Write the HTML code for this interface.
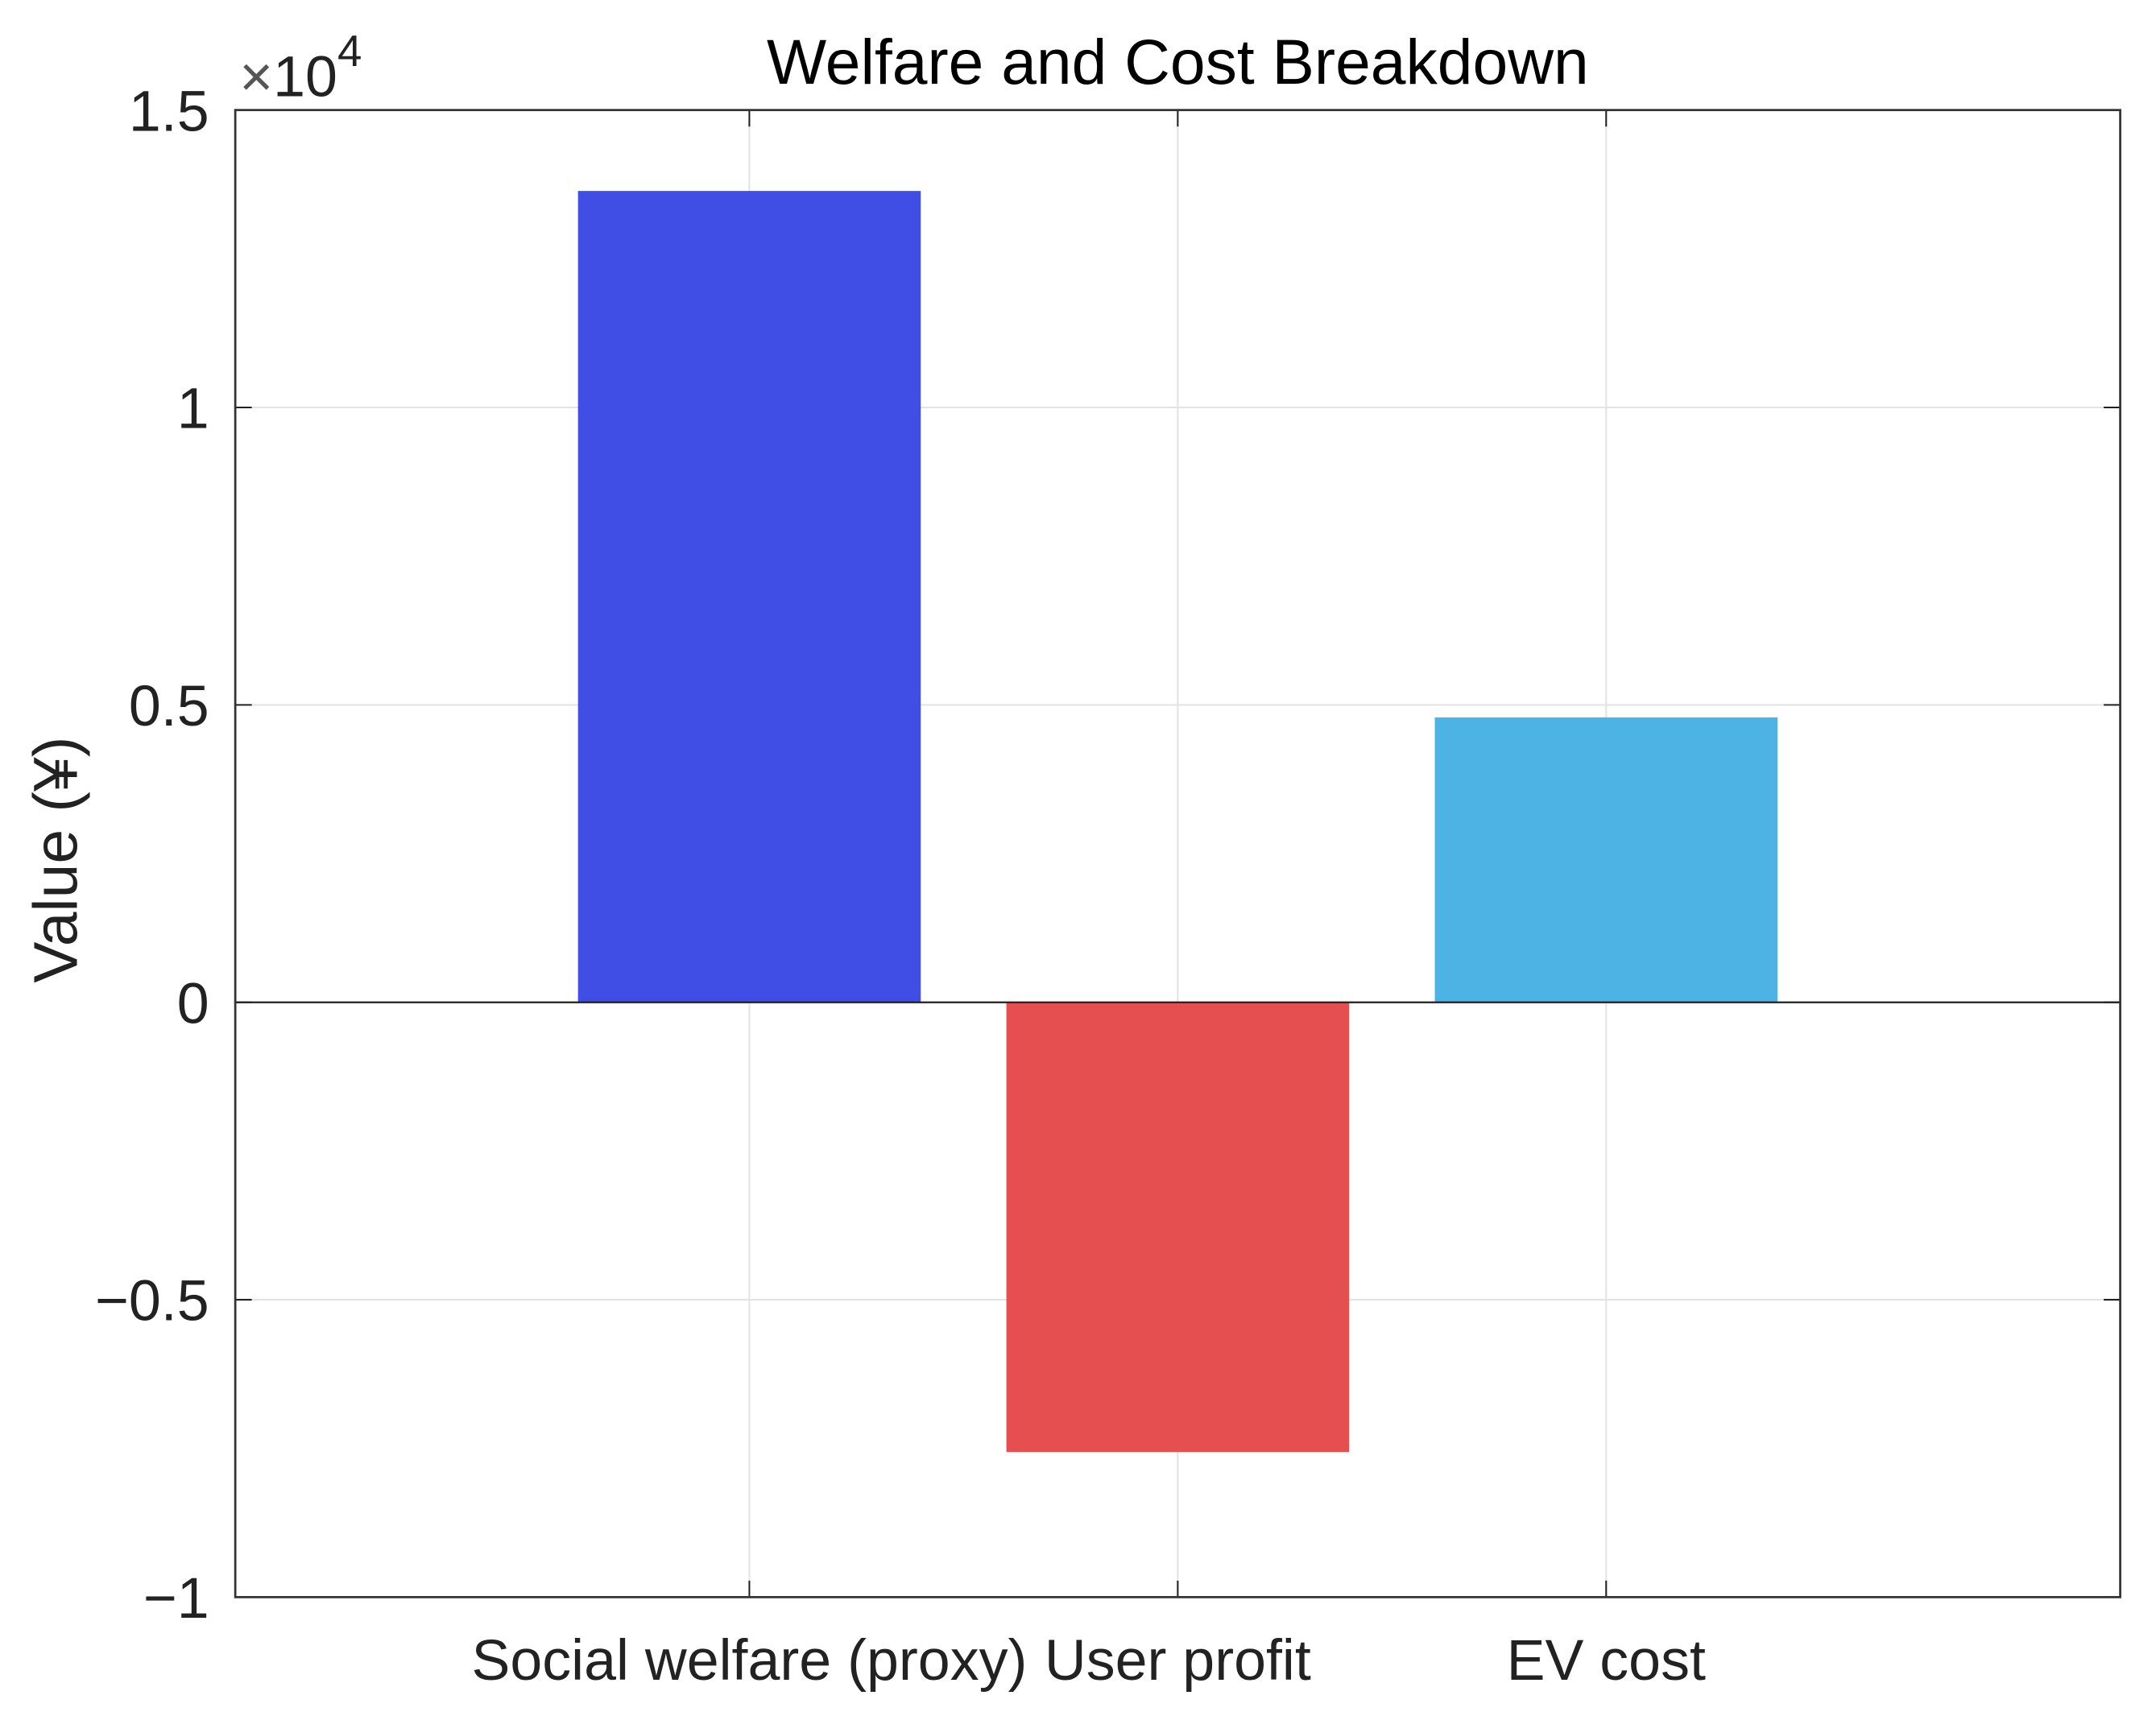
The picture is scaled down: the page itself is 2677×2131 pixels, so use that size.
<!DOCTYPE html>
<html><head><meta charset="utf-8"><style>html,body{margin:0;padding:0;background:#fff}svg{display:block}</style></head>
<body>
<svg id="chart" width="2677" height="2131" viewBox="0 0 1567 1247.4" preserveAspectRatio="none" xmlns="http://www.w3.org/2000/svg" font-family="Liberation Sans, Noto Sans CJK SC, sans-serif">
<rect width="1567" height="1248" fill="#fff"/>
<g id="grid"></g>
<g id="bars"></g>
<g id="axes"></g>
<text x="856" y="61" font-size="46" text-anchor="middle" fill="#000">Welfare and Cost Breakdown</text>
<text x="174" y="70" font-size="42" fill="#222"><tspan fill="#555">×</tspan>10<tspan dy="-22" font-size="32">4</tspan></text>
<text transform="translate(56,625) rotate(-90)" font-size="45" text-anchor="middle" fill="#222">Value (¥)</text>
</svg>
<script>
const categories = ["Social welfare (proxy)", "User profit", "EV cost"];
const values = [13640, -7560, 4790];
const colors = ["#414ee5", "#e54f4f", "#4db3e5"];
const yTicks = [-10000, -5000, 0, 5000, 10000, 15000];
const yTickLabels = ["\u22121", "\u22120.5", "0", "0.5", "1", "1.5"];

const L = 171, R = 1541, T = 80, B = 1161;
const yMin = -10000, yMax = 15000, xMin = -0.2, xMax = 4.2;
const ys = v => B - (v - yMin) / (yMax - yMin) * (B - T);
const xs = v => L + (v - xMin) / (xMax - xMin) * (R - L);
const NS = "http://www.w3.org/2000/svg";
function mk(tag, attrs, parent) {
  const e = document.createElementNS(NS, tag);
  for (const k in attrs) e.setAttribute(k, attrs[k]);
  parent.appendChild(e);
  return e;
}
const grid = document.getElementById('grid');
const barsG = document.getElementById('bars');
const axes = document.getElementById('axes');

yTicks.forEach((t, i) => {
  const y = ys(t);
  const g = mk('line', {x1: L, x2: R, y1: y, y2: y, stroke: '#e3e3e3', 'stroke-width': 1.2}, grid);
  
  
  const tl = mk('line', {x1: L, x2: L + 12, y1: y, y2: y, stroke: '#222', 'stroke-width': 1.2}, axes);
  
  
  const tr = mk('line', {x1: R - 12, x2: R, y1: y, y2: y, stroke: '#222', 'stroke-width': 1.2}, axes);
  
  
  const lb = mk('text', {x: 152, y: y + 15, 'font-size': 42, 'text-anchor': 'end', fill: '#222'}, axes);
  lb.textContent = yTickLabels[i];
  
  
});

categories.forEach((c, i) => {
  const x = xs(i + 1);
  const g = mk('line', {x1: x, x2: x, y1: T, y2: B, stroke: '#e3e3e3', 'stroke-width': 1.2}, grid);
  
  
  const v = values[i];
  const y0 = ys(0), y1 = ys(v);
  const w = xs(0.4) - xs(0);
  const b = mk('rect', {x: x - w, y: Math.min(y0, y1), width: 2 * w, height: Math.abs(y1 - y0), fill: colors[i]}, barsG);
  
  
  const tb = mk('line', {x1: x, x2: x, y1: B - 12, y2: B, stroke: '#222', 'stroke-width': 1.2}, axes);
  
  
  const tt = mk('line', {x1: x, x2: x, y1: T, y2: T + 12, stroke: '#222', 'stroke-width': 1.2}, axes);
  
  
  const lb = mk('text', {x: x, y: 1221, 'font-size': 42, 'text-anchor': 'middle', fill: '#222'}, axes);
  lb.textContent = c;
  
  
});

const zl = mk('line', {x1: L, x2: R, y1: ys(0), y2: ys(0), stroke: '#222', 'stroke-width': 1.3}, axes);


const box = mk('rect', {x: L, y: T, width: R - L, height: B - T, fill: 'none', stroke: '#333', 'stroke-width': 1.6}, axes);


</script>
</body></html>
